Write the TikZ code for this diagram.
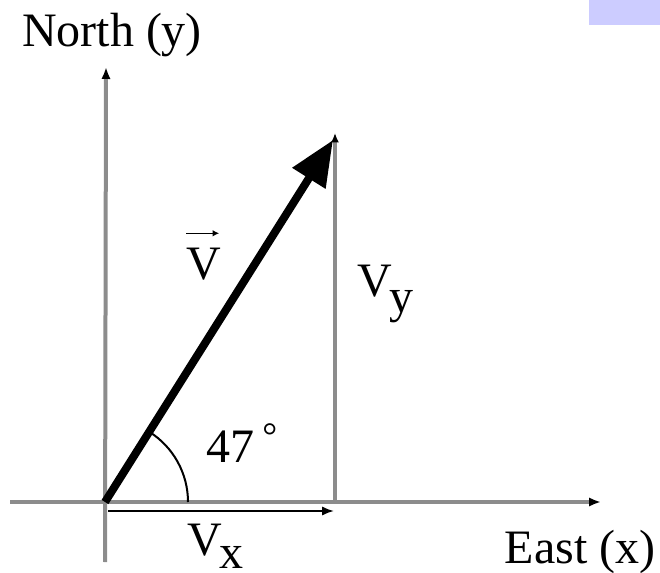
\documentclass[tikz,border=0pt]{standalone}
\usepackage{fontspec}
\setmainfont{Liberation Serif}
\usetikzlibrary{arrows.meta,calc}
\definecolor{axisgray}{rgb}{0.55,0.55,0.55}
\definecolor{boxblue}{rgb}{0.8,0.8,1}
\begin{document}
\begin{tikzpicture}[x=0.75pt,y=-0.75pt,
  lbl/.style={inner sep=0pt,font=\fontsize{36}{40}\selectfont},
  axisline/.style={draw=axisgray,line width=3pt,-{Latex[black,length=9pt,width=7pt]}},
  compline/.style={draw=black,line width=1.5pt,-{Latex[black,length=9pt,width=7pt]}},
  vecline/.style={draw=black,line width=6pt,-{Triangle[length=34pt,width=28pt]}},
  anglearc/.style={draw=black,line width=1.5pt}]
\useasboundingbox (0,0) rectangle (660,573);
\fill[boxblue] (589,0) rectangle (660,25);
% points
\coordinate (O) at (105,502);
\coordinate (Ntop) at (106,67);
\coordinate (Nbot) at (105,562);
\coordinate (Wend) at (10,502);
\coordinate (Etip) at (601,502);
\coordinate (Vtip) at (333,140);
\coordinate (Vybot) at (335,502);
\coordinate (Vytop) at (335,133);
\coordinate (Vxa) at (108,511);
\coordinate (Vxb) at (334,511);
% axes
\draw[axisline] (Nbot) -- (Ntop);
\draw[axisline] (Wend) -- (Etip);
% components
\draw[axisline,-{Latex[black,length=7pt,width=6pt]}] (Vybot) -- (Vytop);
\draw[compline] (Vxa) -- (Vxb);
% main vector
\draw[vecline] (O) -- (Vtip);
% angle arc
\draw[anglearc] ($(O)+(-57.8:83)$) arc[start angle=-57.8,end angle=0,radius=83];
% labels
\node[lbl,anchor=base] (north) at (112,47) {North (y)};
\node[lbl,anchor=base] (east) at (580,563) {East (x)};
\node[lbl,anchor=base west] (vlab) at (186,280) {V};
\draw[line width=1.2pt,-{Latex[length=5pt,width=5pt]}] ($(vlab.north west)+(0,-15)$) -- ($(vlab.north east)+(-2,-15)$);
\node[lbl,anchor=base west] (vylab) at (357,297) {V\kern-2pt\raisebox{-12pt}{y}};
\node[lbl,anchor=base west] (vxlab) at (187,555) {V\kern-2pt\raisebox{-10pt}{x}};
\node[lbl,anchor=base west] (ang) at (206,462) {47\kern6pt\raisebox{10pt}{\fontsize{28}{30}\selectfont °}};
\end{tikzpicture}
\end{document}
